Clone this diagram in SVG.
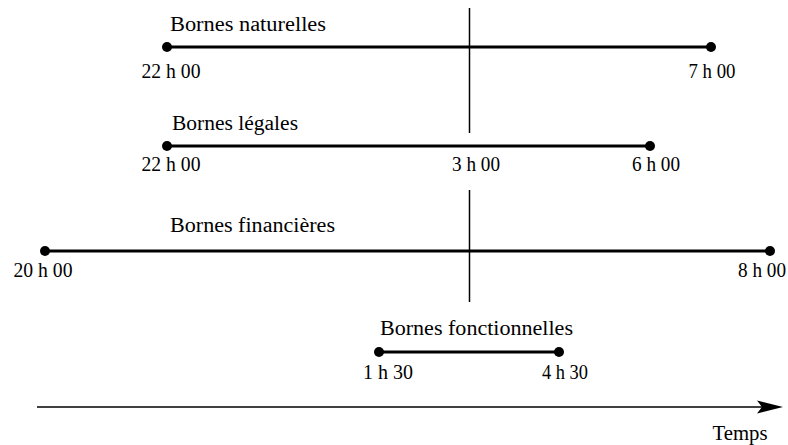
<svg xmlns="http://www.w3.org/2000/svg" width="788" height="445" viewBox="0 0 788 445">
<style>
text{font-family:"Liberation Serif","Times New Roman",serif;font-size:20px;fill:#000}
.t{text-anchor:middle}
.ln{stroke:#000;stroke-width:3;fill:none}
.thin{stroke:#000;stroke-width:1.5;fill:none}
.dot{fill:#000}
</style>
<rect width="788" height="445" fill="#fff"/>
<g id="connectors">
<line class="thin" x1="469.5" y1="8" x2="469.5" y2="133"/>
<line class="thin" x1="469.5" y1="190" x2="469.5" y2="302"/>
<line x1="37" y1="407" x2="762" y2="407" stroke="#000" stroke-width="1.5"/>
<path d="M757,400.5 L783,407 L757,413.5 L762,407 Z" fill="#000"/>
</g>
<g id="naturelles">
<line class="ln" x1="167" y1="47" x2="711" y2="47"/>
<circle class="dot" cx="167" cy="47" r="5"/>
<circle class="dot" cx="711" cy="47" r="5"/>
<text x="170" y="31" textLength="156" lengthAdjust="spacingAndGlyphs">Bornes naturelles</text>
<text class="t" x="171" y="78" textLength="59" lengthAdjust="spacingAndGlyphs">22 h 00</text>
<text class="t" x="712" y="78" textLength="47" lengthAdjust="spacingAndGlyphs">7 h 00</text>
</g>
<g id="legales">
<line class="ln" x1="167" y1="146" x2="650" y2="146"/>
<circle class="dot" cx="167" cy="146" r="5"/>
<circle class="dot" cx="650" cy="146" r="5"/>
<text x="172" y="130" textLength="126" lengthAdjust="spacingAndGlyphs">Bornes légales</text>
<text class="t" x="171" y="171" textLength="59" lengthAdjust="spacingAndGlyphs">22 h 00</text>
<text class="t" x="476" y="171" textLength="48" lengthAdjust="spacingAndGlyphs">3 h 00</text>
<text class="t" x="656" y="171" textLength="48" lengthAdjust="spacingAndGlyphs">6 h 00</text>
</g>
<g id="financieres">
<line class="ln" x1="45" y1="251" x2="770" y2="251"/>
<circle class="dot" cx="45" cy="251" r="5"/>
<circle class="dot" cx="770" cy="251" r="5"/>
<text x="170" y="232" textLength="165" lengthAdjust="spacingAndGlyphs">Bornes financières</text>
<text class="t" x="43" y="277" textLength="59" lengthAdjust="spacingAndGlyphs">20 h 00</text>
<text class="t" x="762" y="277" textLength="48" lengthAdjust="spacingAndGlyphs">8 h 00</text>
</g>
<g id="fonctionnelles">
<line class="ln" x1="379" y1="352" x2="559" y2="352"/>
<circle class="dot" cx="379" cy="352" r="5"/>
<circle class="dot" cx="559" cy="352" r="5"/>
<text x="380" y="335" textLength="193" lengthAdjust="spacingAndGlyphs">Bornes fonctionnelles</text>
<text class="t" x="388" y="379" textLength="50" lengthAdjust="spacingAndGlyphs">1 h 30</text>
<text class="t" x="565" y="379" textLength="46" lengthAdjust="spacingAndGlyphs">4 h 30</text>
</g>
<g id="axis">
<text class="t" x="740" y="440" textLength="55" lengthAdjust="spacingAndGlyphs">Temps</text>
</g>
</svg>
